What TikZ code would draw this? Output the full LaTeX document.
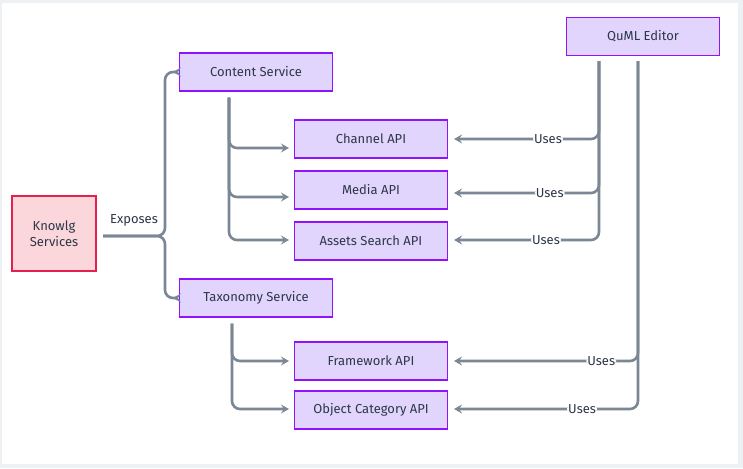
\documentclass[tikz,border=0pt]{standalone}
\usepackage{fontspec}
\setmainfont{Fira Sans}
\usepackage{xcolor}
\usetikzlibrary{arrows.meta}

\definecolor{pagegray}{HTML}{EEF1F4}
\definecolor{boxfill}{HTML}{E1D5FD}
\definecolor{boxline}{HTML}{9013FE}
\definecolor{rootfill}{HTML}{FBD7DC}
\definecolor{rootline}{HTML}{E5204E}
\definecolor{linkgray}{HTML}{7B8794}
\definecolor{textdark}{HTML}{2D3748}

\tikzset{
    svcbox/.style={draw=boxline, fill=boxfill, line width=1.1pt, text=textdark,
        minimum width=153pt, minimum height=38pt, inner sep=0pt, font=\fontsize{13}{15}\selectfont},
    rootbox/.style={svcbox, draw=rootline, fill=rootfill, minimum width=84pt,
        minimum height=75pt, align=center},
    link/.style={draw=linkgray, line width=2.6pt, rounded corners=8pt,
        -{Stealth[length=8pt, width=9pt, inset=3pt]}},
    uses/.style={fill=white, text=textdark, inner sep=1pt, font=\fontsize{13}{15}\selectfont}
}

\begin{document}
\begin{tikzpicture}[x=1pt, y=-1pt]
        \useasboundingbox (0, 0) rectangle (743, 468);
        \fill[pagegray] (0, 0) rectangle (743, 468);
        \fill[white] (2, 3) rectangle (738, 464);

        \node[rootbox] (knowlg) at (54, 233.5) {Knowlg\\[1pt]Services};
        \node[svcbox] (content) at (256, 72) {Content Service};
        \node[svcbox] (taxonomy) at (256, 298) {Taxonomy Service};
        \node[svcbox] (channel) at (371, 139) {Channel API};
        \node[svcbox] (media) at (371, 190) {Media API};
        \node[svcbox] (assets) at (371, 241) {Assets Search API};
        \node[svcbox] (framework) at (371, 361) {Framework API};
        \node[svcbox] (objcat) at (371, 410) {Object Category API};
        \node[svcbox] (quml) at (643, 36.5) {QuML Editor};

        \coordinate (split) at (165, 236);

        % exposes
        \draw[link] (103, 236) -- node[above=5pt, text=textdark, font=\fontsize{13}{15}\selectfont]{Exposes}
            (split) |- ([xshift=-6pt]content.west);
        \draw[link] (103, 236) -- (split) |- ([xshift=-6pt]taxonomy.west);

        % content service apis
        \draw[link] ([xshift=-27pt, yshift=-6pt]content.south) |- ([xshift=-5pt, yshift=-9pt]channel.west);
        \draw[link] ([xshift=-27pt, yshift=-6pt]content.south) |- ([xshift=-5pt, yshift=-7pt]media.west);
        \draw[link] ([xshift=-27pt, yshift=-6pt]content.south) |- ([xshift=-5pt, yshift=1pt]assets.west);

        % taxonomy service apis
        \draw[link] ([xshift=-24pt, yshift=-6pt]taxonomy.south) |- ([xshift=-5pt]framework.west);
        \draw[link] ([xshift=-24pt, yshift=-6pt]taxonomy.south) |- ([xshift=-5pt, yshift=1pt]objcat.west);

        % editor uses
        \draw[link] ([xshift=-44pt, yshift=-5pt]quml.south) |- node[uses, pos=0.676]{Uses} ([xshift=6pt]channel.east);
        \draw[link] ([xshift=-44pt, yshift=-5pt]quml.south) |- node[uses, pos=0.67]{Uses} ([xshift=6pt, yshift=-3pt]media.east);
        \draw[link] ([xshift=-44pt, yshift=-5pt]quml.south) |- node[uses, pos=0.683]{Uses} ([xshift=6pt, yshift=1pt]assets.east);
        \draw[link] ([xshift=-5pt, yshift=-5pt]quml.south) |- node[uses, pos=0.6]{Uses} ([xshift=6pt]framework.east);
        \draw[link] ([xshift=-5pt, yshift=-5pt]quml.south) |- node[uses, pos=0.652]{Uses} ([xshift=6pt, yshift=1pt]objcat.east);

    \end{tikzpicture}
\end{document}
